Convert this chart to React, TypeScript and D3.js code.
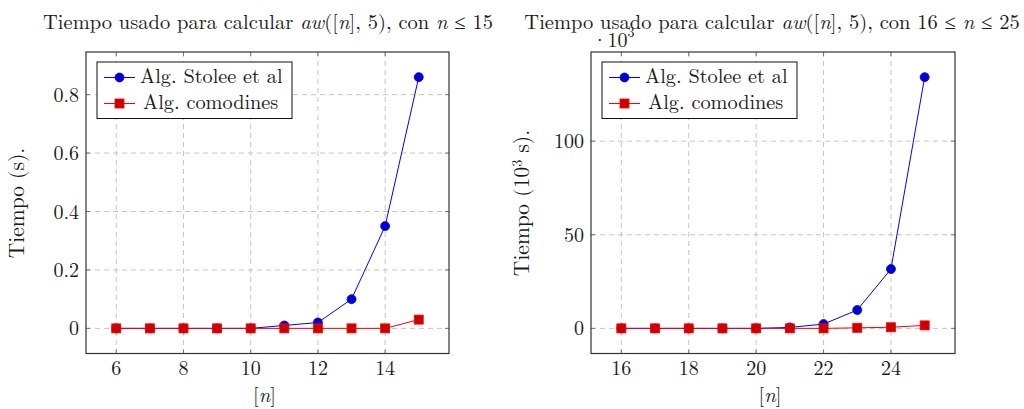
import React from "react";
import * as d3 from "d3";

const nSmall = [6, 7, 8, 9, 10, 11, 12, 13, 14, 15];
const stoleeSmall = [0, 0, 0, 0, 0, 0.01, 0.02, 0.1, 0.35, 0.86];
const comodinesSmall = [0, 0, 0, 0, 0, 0, 0, 0, 0, 0.03];
const xTicksSmall = [6, 8, 10, 12, 14];
const yTicksSmall = [0, 0.2, 0.4, 0.6, 0.8];

const nLarge = [16, 17, 18, 19, 20, 21, 22, 23, 24, 25];
const stoleeLarge = [0, 0, 0, 0, 0, 0.5, 2.3, 9.8, 31.7, 134.2];
const comodinesLarge = [0, 0, 0, 0, 0, 0, 0, 0.3, 0.6, 1.6];
const xTicksLarge = [16, 18, 20, 22, 24];
const yTicksLarge = [0, 50, 100];

const seriesNames = ["Alg. Stolee et al", "Alg. comodines"];

const FONT = "'Latin Modern Roman', 'CMU Serif', 'Liberation Serif', serif";
const BLUE = "#0000ff";
const BLUE_FILL = "#0000cc";
const RED = "#ff0000";
const RED_FILL = "#cc0000";
const TXT = "#1a1a1a";

type PanelProps = {
  left: number;
  right: number;
  top: number;
  bottom: number;
  xs: number[];
  a: number[];
  b: number[];
  xTicks: number[];
  yTicks: number[];
  title: React.ReactNode;
  titleX: number;
  ylabel: React.ReactNode;
  ylabelX: number;
  scaleLabel?: boolean;
  yFmt: (v: number) => string;
};

function Panel(p: PanelProps) {
  const xmin = d3.min(p.xs)!;
  const xmax = d3.max(p.xs)!;
  const xr = xmax - xmin;
  const x = d3.scaleLinear().domain([xmin - 0.1 * xr, xmax + 0.1 * xr]).range([p.left, p.right]);
  const allY = [...p.a, ...p.b];
  const ymin = d3.min(allY)!;
  const ymax = d3.max(allY)!;
  const yr = ymax - ymin;
  const y = d3.scaleLinear().domain([ymin - 0.1 * yr, ymax + 0.1 * yr]).range([p.bottom, p.top]);
  const line = d3
    .line<number>()
    .x((_, i) => x(p.xs[i]))
    .y((d) => y(d));
  const grid = "#c4c4c4";
  const tickLen = 4;
  const lgX = p.left + 11;
  const lgY = p.top + 10;
  const lgW = 195;
  const lgH = 56.5;
  const sq = 9;
  return (
    <g fontFamily={FONT}>
      <text x={p.titleX} y={29} textAnchor="middle" fontSize={20.5} fill={TXT}>
        {p.title}
      </text>
      {p.scaleLabel && (
        <text x={p.left + 1} y={47} fontSize={20} fill={TXT}>
          ·10<tspan dy={-10} fontSize={14}>3</tspan>
        </text>
      )}
      {/* grid */}
      {p.xTicks.map((t) => (
        <line key={"gx" + t} x1={x(t)} x2={x(t)} y1={p.top} y2={p.bottom} stroke={grid} strokeDasharray="5,4" strokeWidth={1} />
      ))}
      {p.yTicks.map((t) => (
        <line key={"gy" + t} x1={p.left} x2={p.right} y1={y(t)} y2={y(t)} stroke={grid} strokeDasharray="5,4" strokeWidth={1} />
      ))}
      {/* tick marks */}
      {p.xTicks.map((t) => (
        <g key={"tx" + t}>
          <line x1={x(t)} x2={x(t)} y1={p.bottom} y2={p.bottom - tickLen} stroke="#777" />
          <line x1={x(t)} x2={x(t)} y1={p.top} y2={p.top + tickLen} stroke="#777" />
          <text x={x(t)} y={p.bottom + 21.5} textAnchor="middle" fontSize={20} fill={TXT}>
            {t}
          </text>
        </g>
      ))}
      {p.yTicks.map((t) => (
        <g key={"ty" + t}>
          <line x1={p.left} x2={p.left + tickLen} y1={y(t)} y2={y(t)} stroke="#777" />
          <line x1={p.right} x2={p.right - tickLen} y1={y(t)} y2={y(t)} stroke="#777" />
          <text x={p.left - 7} y={y(t) + 7} textAnchor="end" fontSize={20} fill={TXT}>
            {p.yFmt(t)}
          </text>
        </g>
      ))}
      {/* series */}
      <path d={line(p.a)!} fill="none" stroke={BLUE} strokeWidth={1} />
      <path d={line(p.b)!} fill="none" stroke={RED} strokeWidth={1} />
      {p.a.map((v, i) => (
        <circle key={"a" + i} cx={x(p.xs[i])} cy={y(v)} r={4.5} fill={BLUE_FILL} stroke={BLUE} strokeWidth={0.8} />
      ))}
      {p.b.map((v, i) => (
        <rect key={"b" + i} x={x(p.xs[i]) - sq / 2} y={y(v) - sq / 2} width={sq} height={sq} fill={RED_FILL} stroke={RED} strokeWidth={0.8} />
      ))}
      {/* box */}
      <rect x={p.left} y={p.top} width={p.right - p.left} height={p.bottom - p.top} fill="none" stroke="#333" strokeWidth={1.2} />
      {/* legend */}
      <rect x={lgX} y={lgY} width={lgW} height={lgH} fill="#fff" stroke="#111" strokeWidth={1} />
      <line x1={lgX + 7} x2={lgX + 38} y1={lgY + 15.5} y2={lgY + 15.5} stroke={BLUE} />
      <circle cx={lgX + 22.5} cy={lgY + 15.5} r={4.5} fill={BLUE_FILL} stroke={BLUE} strokeWidth={0.8} />
      <text x={lgX + 43} y={lgY + 21} fontSize={20.3} fill={TXT}>
        {seriesNames[0]}
      </text>
      <line x1={lgX + 7} x2={lgX + 38} y1={lgY + 41.5} y2={lgY + 41.5} stroke={RED} />
      <rect x={lgX + 22.5 - sq / 2} y={lgY + 41.5 - sq / 2} width={sq} height={sq} fill={RED_FILL} stroke={RED} strokeWidth={0.8} />
      <text x={lgX + 46} y={lgY + 47} fontSize={20.3} fill={TXT}>
        {seriesNames[1]}
      </text>
      {/* axis labels */}
      <text x={(p.left + p.right) / 2 - 3} y={402} textAnchor="middle" fontSize={20.5} fill={TXT}>
        [<tspan fontStyle="italic">n</tspan>]
      </text>
      <text transform={`translate(${p.ylabelX},203) rotate(-90)`} textAnchor="middle" fontSize={21.5} fill={TXT}>
        {p.ylabel}
      </text>
    </g>
  );
}

export default function App() {
  const fmtSmall = (v: number) => (v === 0 ? "0" : d3.format(".1f")(v));
  const fmtLarge = (v: number) => String(v);
  return (
    <svg width={1024} height={409} style={{ position: "absolute", left: 0, top: 0, background: "#fff" }}>
      <rect width={1024} height={409} fill="#fff" />
      <Panel
        left={86}
        right={449}
        top={52}
        bottom={353.5}
        xs={nSmall}
        a={stoleeSmall}
        b={comodinesSmall}
        xTicks={xTicksSmall}
        yTicks={yTicksSmall}
        titleX={268}
        title={
          <>
            Tiempo usado para calcular <tspan fontStyle="italic">aw</tspan>([<tspan fontStyle="italic">n</tspan>], 5), con{" "}
            <tspan fontStyle="italic">n</tspan> ≤ 15
          </>
        }
        ylabel={<>Tiempo (s).</>}
        ylabelX={24}
        yFmt={fmtSmall}
      />
      <Panel
        left={591}
        right={955}
        top={52}
        bottom={353.5}
        xs={nLarge}
        a={stoleeLarge}
        b={comodinesLarge}
        xTicks={xTicksLarge}
        yTicks={yTicksLarge}
        titleX={772}
        title={
          <>
            Tiempo usado para calcular <tspan fontStyle="italic">aw</tspan>([<tspan fontStyle="italic">n</tspan>], 5), con 16 ≤{" "}
            <tspan fontStyle="italic">n</tspan> ≤ 25
          </>
        }
        ylabel={
          <>
            Tiempo (10<tspan dy={-7} fontSize={14}>3</tspan>
            <tspan dy={7}> s).</tspan>
          </>
        }
        ylabelX={528.5}
        scaleLabel
        yFmt={fmtLarge}
      />
    </svg>
  );
}
